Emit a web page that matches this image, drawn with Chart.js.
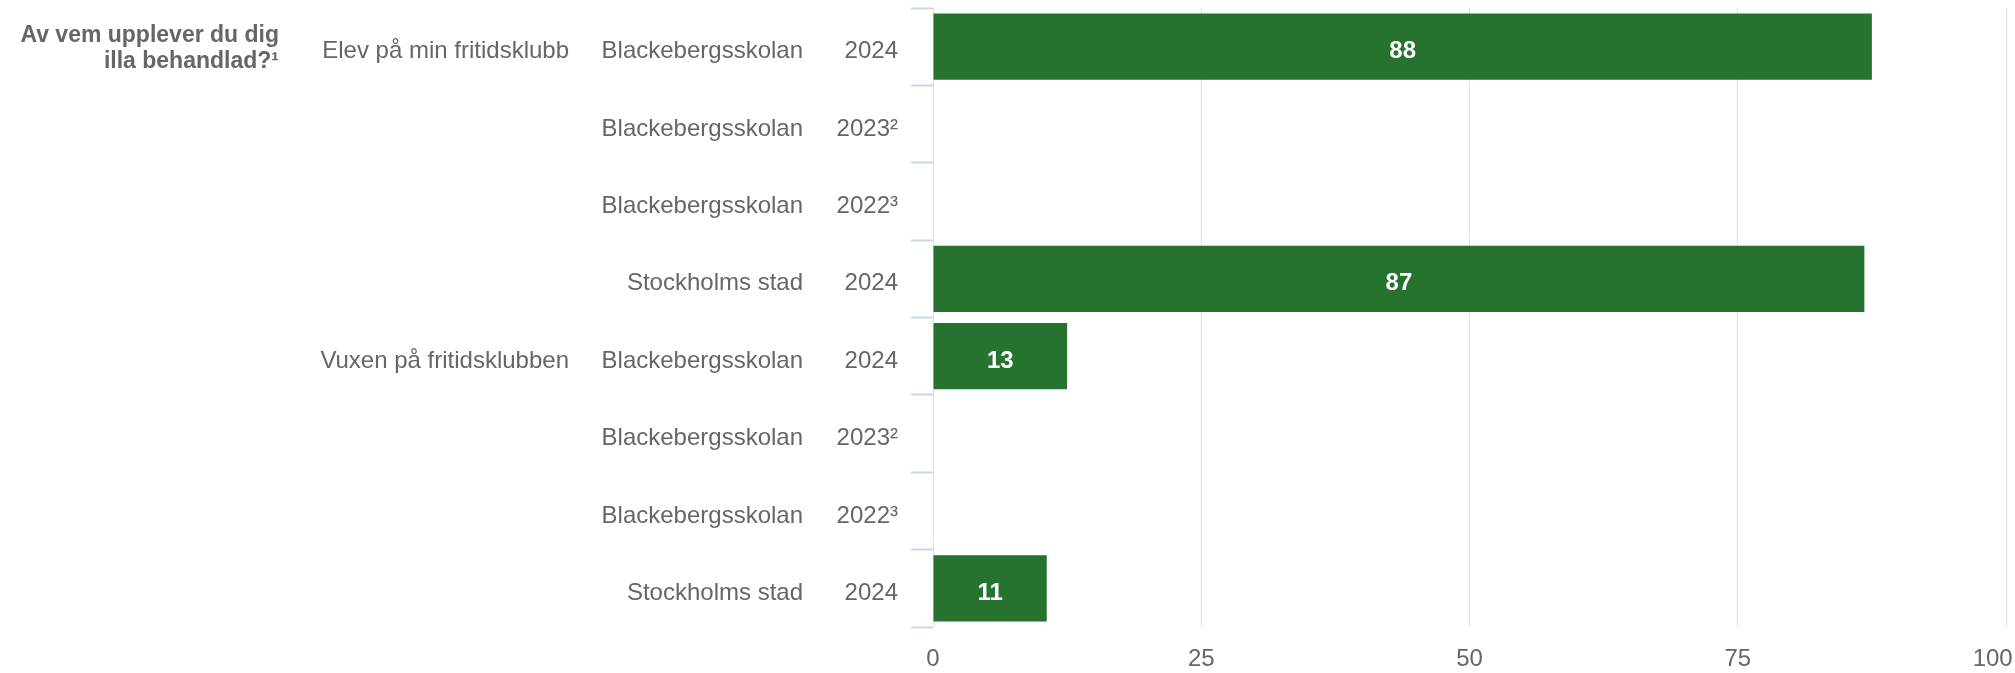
<!DOCTYPE html>
<html>
<head>
<meta charset="utf-8">
<script src="https://cdn.jsdelivr.net/npm/chart.js@4/dist/chart.umd.min.js"></script>
<style>
html,body{margin:0;padding:0;background:#ffffff;}
#wrap{width:2015px;height:673px;position:relative;}
</style>
</head>
<body>
<div id="wrap"><canvas id="c"></canvas></div>
<script>
// ---- data ----
const questionTitle = ['Av vem upplever du dig', 'illa behandlad?\u00B9'];
const groupLabels = ['Elev på min fritidsklubb', '', '', '', 'Vuxen på fritidsklubben', '', '', ''];
const unitLabels = ['Blackebergsskolan', 'Blackebergsskolan', 'Blackebergsskolan', 'Stockholms stad',
                    'Blackebergsskolan', 'Blackebergsskolan', 'Blackebergsskolan', 'Stockholms stad'];
const yearLabels = ['2024', '2023\u00B2', '2022\u00B3', '2024', '2024', '2023\u00B2', '2022\u00B3', '2024'];
const values = [87.5, null, null, 86.8, 12.5, null, null, 10.6];
const xTickValues = [0, 25, 50, 75, 100];

// ---- styles ----
const FONT = '"Liberation Sans", Arial, Helvetica, sans-serif';
const TEXT = '#666666';
const BAR = '#26732f';
Chart.defaults.font.family = FONT;
Chart.defaults.color = TEXT;

const valueLabelPlugin = {
  id: 'valueLabels',
  afterDatasetsDraw(chart) {
    const ctx = chart.ctx;
    const meta = chart.getDatasetMeta(0);
    ctx.save();
    ctx.font = 'bold 24px ' + FONT;
    ctx.fillStyle = '#ffffff';
    ctx.textAlign = 'center';
    ctx.textBaseline = 'alphabetic';
    meta.data.forEach((el, i) => {
      const v = chart.data.datasets[0].data[i];
      if (v === null || v === undefined) return;
      const x = (el.x + el.base) / 2;
      ctx.fillText(String(Math.round(v)), x, el.y + 11.5);
    });
    ctx.restore();
  }
};

const titlePlugin = {
  id: 'questionTitle',
  afterDraw(chart) {
    const ctx = chart.ctx;
    const s = chart.scales.yGroup;
    ctx.save();
    ctx.font = 'bold 23px ' + FONT;
    ctx.fillStyle = TEXT;
    ctx.textAlign = 'right';
    ctx.textBaseline = 'alphabetic';
    const xRight = s.left + 279;
    const top = chart.chartArea.top;
    questionTitle.forEach((line, i) => {
      ctx.fillText(line, xRight, top + 34 + i * 26);
    });
    ctx.restore();
  }
};

const labelTicks = (pad) => ({
  color: TEXT, font: { size: 24 }, padding: pad, labelOffset: 5, autoSkip: false
});

new Chart(document.getElementById('c'), {
  type: 'bar',
  data: {
    labels: yearLabels,
    datasets: [{
      data: values,
      backgroundColor: BAR,
      borderWidth: 0,
      barPercentage: 0.855,
      categoryPercentage: 1.0,
      yAxisID: 'y'
    }]
  },
  options: {
    indexAxis: 'y',
    responsive: true,
    maintainAspectRatio: false,
    animation: false,
    layout: { padding: { top: 8, right: 9, bottom: 0, left: 0 } },
    plugins: { legend: { display: false }, tooltip: { enabled: false } },
    scales: {
      x: {
        type: 'linear', position: 'bottom', min: 0, max: 100,
        afterBuildTicks: s => { s.ticks = xTickValues.map(v => ({ value: v })); },
        grid: { color: '#e0e0e0', lineWidth: 1, drawTicks: false },
        border: { display: false },
        ticks: {
          color: TEXT, font: { size: 24 }, padding: 18,
          callback: (v, i, t) => (i === t.length - 1 ? String(v) + '\u2007\u2007' : String(v))
        },
        afterFit: s => { s.height = 46; s.paddingLeft = 0; s.paddingRight = 0; }
      },
      y: {
        type: 'category', position: 'left', weight: 0, offset: true,
        grid: { offset: true, drawOnChartArea: false, drawTicks: true, tickLength: 22,
                color: '#ccd6eb', tickColor: '#ccd6eb', tickWidth: 2 },
        border: { display: false },
        ticks: labelTicks(13),
        afterFit: s => { s.width = 130; s.paddingTop = 0; s.paddingBottom = 0; }
      },
      yUnit: {
        type: 'category', labels: unitLabels, position: 'left', weight: 1, offset: true,
        grid: { display: false, drawTicks: false, tickLength: 0 },
        border: { display: false },
        ticks: labelTicks(0),
        afterFit: s => { s.width = 234; s.paddingTop = 0; s.paddingBottom = 0; }
      },
      yGroup: {
        type: 'category', labels: groupLabels, position: 'left', weight: 2, offset: true,
        grid: { display: false, drawTicks: false, tickLength: 0 },
        border: { display: false },
        ticks: labelTicks(0),
        afterFit: s => { s.width = 569; s.paddingTop = 0; s.paddingBottom = 0; }
      }
    }
  },
  plugins: [valueLabelPlugin, titlePlugin]
});
</script>
</body>
</html>
